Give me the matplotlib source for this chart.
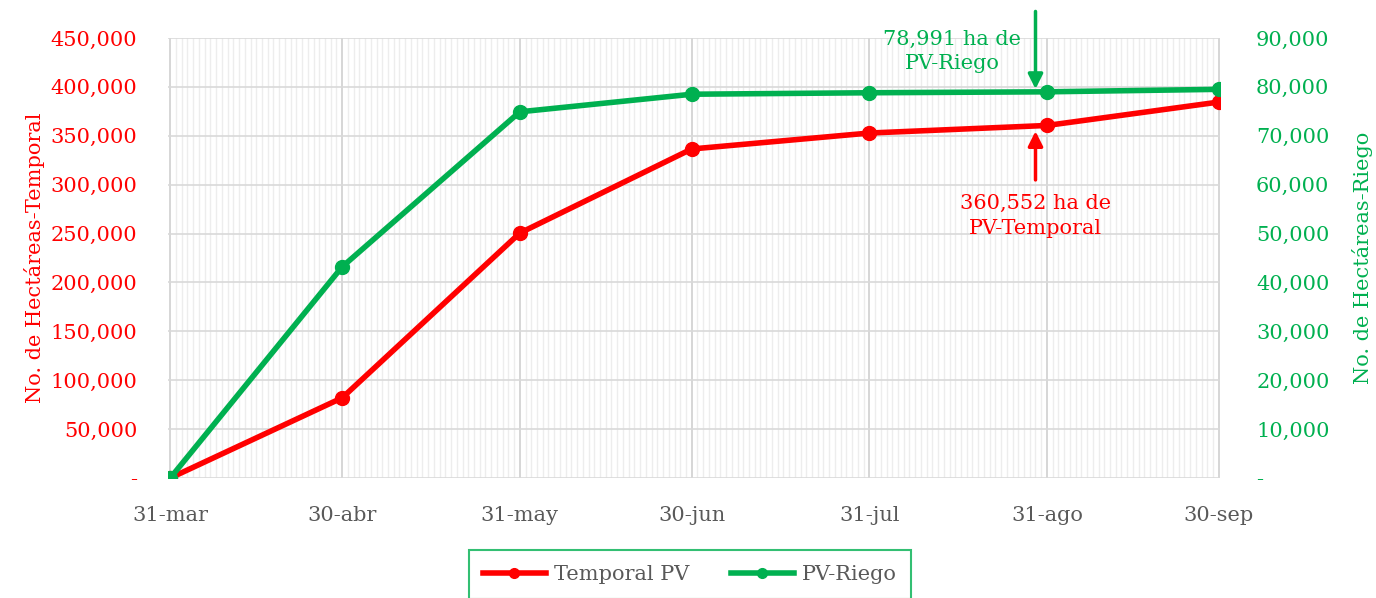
import numpy as np
import pandas as pd
import matplotlib
matplotlib.use("Agg")
import matplotlib.pyplot as plt
import matplotlib.dates as mdates
from matplotlib.ticker import FuncFormatter, MultipleLocator

plt.rcParams['font.family'] = ['DejaVu Serif']

fechas = pd.to_datetime(['2023-03-31', '2023-04-30', '2023-05-31', '2023-06-30',
                         '2023-07-31', '2023-08-31', '2023-09-30'])
etiquetas = ['31-mar', '30-abr', '31-may', '30-jun', '31-jul', '31-ago', '30-sep']
temporal = [0, 82000, 250500, 336500, 352800, 360552, 384500]
riego = [0, 43200, 74900, 78500, 78800, 78991, 79500]

ROJO = '#FF0000'
VERDE = '#00B050'
GRIS = '#595959'
FS = 15

fig = plt.figure(figsize=(13.76, 5.98), dpi=100)
ax = fig.add_axes([168/1376, 1-478/598, (1220-168)/1376, 440/598])
ax2 = ax.twinx()

ax.plot(fechas, temporal, color=ROJO, lw=4, marker='o', ms=10, label='Temporal PV', zorder=4)
ax2.plot(fechas, riego, color=VERDE, lw=4, marker='o', ms=10, label='PV-Riego', zorder=3)

ax.set_ylim(0, 450000)
ax2.set_ylim(0, 90000)
ax.set_xlim(fechas[0] - pd.Timedelta(days=0.4), fechas[-1] + pd.Timedelta(days=0.2))
ax.set_xticks(fechas)
ax.set_xticklabels(etiquetas)
ax.xaxis.set_minor_locator(mdates.DayLocator())
ax.yaxis.set_major_locator(MultipleLocator(50000))
ax2.yaxis.set_major_locator(MultipleLocator(10000))

fmt = FuncFormatter(lambda v, p: '-' if v == 0 else f'{v:,.0f}')
ax.yaxis.set_major_formatter(fmt)
ax2.yaxis.set_major_formatter(fmt)

ax.grid(which='minor', axis='x', color='#EDEDED', lw=1)
ax.grid(which='major', axis='x', color='#D0D0D0', lw=1.2)
ax.grid(which='major', axis='y', color='#D9D9D9', lw=1.2)
ax.set_axisbelow(True)
for a in (ax, ax2):
    for s in a.spines.values():
        s.set_visible(False)
    a.tick_params(which='both', length=0)

ax.tick_params(axis='y', colors=ROJO, labelsize=FS, pad=22)
ax2.tick_params(axis='y', colors=VERDE, labelsize=FS, pad=26)
ax.tick_params(axis='x', colors=GRIS, labelsize=FS, pad=20)
ax.set_ylabel('No. de Hectáreas-Temporal', color=ROJO, fontsize=FS, labelpad=4)
ax2.set_ylabel('No. de Hectáreas-Riego', color=VERDE, fontsize=FS, labelpad=16)

# anotaciones
xf = fechas[5] - pd.Timedelta(days=2)
ax2.annotate('', xy=(xf, riego[5]), xytext=(xf, 96000),
             arrowprops=dict(arrowstyle='-|>', color=VERDE, lw=2.5, mutation_scale=22), annotation_clip=False)
ax2.text(fechas[4] + pd.Timedelta(days=14.5), 87300, '78,991 ha de\nPV-Riego', color=VERDE, fontsize=FS,
         ha='center', va='center', linespacing=1.35)
ax.annotate('', xy=(xf, temporal[5] - 3000), xytext=(xf, 302000),
            arrowprops=dict(arrowstyle='-|>', color=ROJO, lw=2.5, mutation_scale=22))
ax.text(xf, 268000, '360,552 ha de\nPV-Temporal', color=ROJO, fontsize=FS,
        ha='center', va='center', linespacing=1.35)

h1, l1 = ax.get_legend_handles_labels()
h2, l2 = ax2.get_legend_handles_labels()
leg = fig.legend(h1 + h2, l1 + l2, loc='upper center', bbox_to_anchor=(690/1376, 1-540/598),
                 ncol=2, fontsize=FS, frameon=True, fancybox=False, borderpad=0.7,
                 handlelength=3.0, handletextpad=0.4, columnspacing=2.0, markerscale=0.7)
leg.get_frame().set_edgecolor(VERDE)
leg.get_frame().set_linewidth(1.5)
for t in leg.get_texts():
    t.set_color(GRIS)

fig.savefig('out.png', dpi=100)
